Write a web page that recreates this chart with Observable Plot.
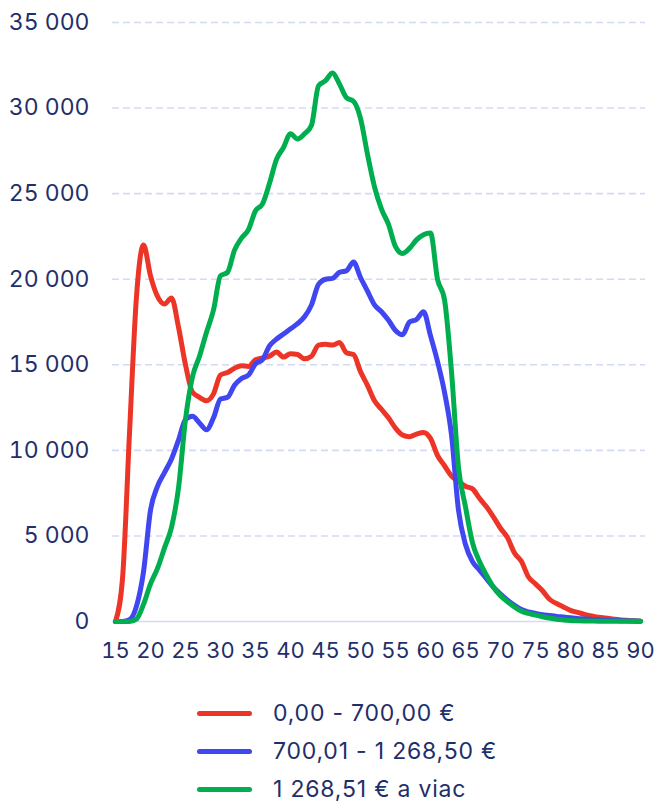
<!DOCTYPE html>
<html>
<head>
<meta charset="utf-8">
<script src="https://cdn.jsdelivr.net/npm/d3@7"></script>
<script src="https://cdn.jsdelivr.net/npm/@observablehq/plot@0.6"></script>
<style>
  html, body { margin: 0; padding: 0; background: #fff; }
  body { width: 657px; height: 804px; overflow: hidden; font-family: Inter, "Noto Sans", sans-serif; }
  #legend { position: relative; padding-left: 197px; margin-top: 14px; }
  .item { display: flex; align-items: center; height: 38px; color: #1f2f6b; font-size: 23px; letter-spacing: 0.8px; }
  .item span.label { line-height: 1; }
  .swatch { width: 55px; height: 5px; border-radius: 3px; margin-right: 21px; }
</style>
</head>
<body>
<div id="chart"></div>
<div id="legend"></div>
<script>
const ages = d3.range(15, 91);
const seriesNames = ["0,00 - 700,00 €", "700,01 - 1 268,50 €", "1 268,51 € a viac"];
const seriesColors = ["#ec3527", "#4046f0", "#00ae4f"];
const yTicks = [0, 5000, 10000, 15000, 20000, 25000, 30000, 35000];
const xTicks = [15, 20, 25, 30, 35, 40, 45, 50, 55, 60, 65, 70, 75, 80, 85, 90];

const red = [0, 2500, 11000, 19000, 22000, 20200, 19000, 18550, 18900, 17200,
  15000, 13400, 13100, 12900, 13300, 14400, 14550, 14800, 14950, 14900,
  15300, 15400, 15500, 15750, 15450, 15650, 15600, 15350, 15500, 16150,
  16200, 16150, 16300, 15700, 15600, 14600, 13800, 12900, 12400, 11900,
  11300, 10900, 10800, 10950, 11050, 10700, 9700, 9100, 8500, 8200,
  7900, 7750, 7200, 6700, 6100, 5450, 4900, 4000, 3500, 2600,
  2200, 1800, 1300, 1050, 850, 650, 530, 420, 330, 250,
  200, 150, 100, 70, 40, 20];
const blue = [0, 0, 100, 900, 2900, 6500, 7900, 8700, 9500, 10600,
  11800, 12000, 11600, 11200, 11900, 13000, 13100, 13800, 14200, 14400,
  15050, 15300, 16100, 16500, 16800, 17100, 17400, 17800, 18500, 19700,
  20000, 20050, 20400, 20500, 21000, 20100, 19300, 18500, 18100, 17600,
  17000, 16750, 17500, 17650, 18100, 16700, 15200, 13400, 10900, 6500,
  4500, 3500, 3000, 2500, 2000, 1600, 1250, 950, 700, 560,
  470, 400, 350, 300, 260, 220, 180, 150, 120, 100,
  80, 60, 50, 40, 30, 20];
const green = [0, 0, 0, 150, 1000, 2200, 3100, 4300, 5500, 7800,
  11800, 14300, 15500, 16900, 18200, 20200, 20400, 21700, 22400, 22900,
  24000, 24400, 25600, 27000, 27700, 28500, 28200, 28500, 29000, 31300,
  31600, 32050, 31400, 30600, 30400, 29400, 27300, 25400, 24100, 23200,
  21900, 21500, 21800, 22300, 22600, 22700, 20000, 18800, 14600, 9000,
  6700, 4600, 3500, 2700, 2000, 1500, 1150, 850, 600, 470,
  370, 280, 200, 130, 90, 60, 40, 30, 25, 20,
  20, 20, 20, 20, 20, 20];

const values = [red, blue, green];
const rows = [];
values.forEach((arr, s) => arr.forEach((v, i) => rows.push({age: ages[i], value: v, series: seriesNames[s]})));

const fmt = d => d3.format(",")(d).replace(/,/g, " ");
const textColor = "#1f2f6b";
const gridColor = "#d3daf4";

const chart = Plot.plot({
  width: 657,
  height: 680,
  marginTop: 22,
  marginLeft: 112,
  marginRight: 12,
  marginBottom: 59,
  insetLeft: 3,
  insetRight: 5,
  style: {fontFamily: "Inter, 'Noto Sans', sans-serif", fontSize: "20px", color: textColor, background: "#fff"},
  x: {domain: [15, 90]},
  y: {domain: [0, 35000]},
  color: {domain: seriesNames, range: seriesColors},
  marks: [
    Plot.gridY(yTicks.filter(d => d > 0), {stroke: gridColor, strokeOpacity: 1, strokeWidth: 1.6, strokeDasharray: "7,4"}),
    Plot.ruleY([0], {stroke: gridColor, strokeWidth: 1.6}),
    Plot.axisY(yTicks, {tickSize: 0, tickPadding: 23, tickFormat: fmt, fill: textColor, fontSize: 23, label: null}),
    Plot.axisX(xTicks, {tickSize: 0, tickPadding: 21, fill: textColor, fontSize: 22, label: null}),
    Plot.line(rows, {x: "age", y: "value", z: "series", stroke: "series", strokeWidth: 5, curve: "monotone-x", strokeLinejoin: "round", strokeLinecap: "round"})
  ]
});
document.getElementById("chart").appendChild(chart);

const legend = document.getElementById("legend");
seriesNames.forEach((name, i) => {
  const item = document.createElement("div");
  item.className = "item";
  const sw = document.createElement("span");
  sw.className = "swatch";
  sw.style.background = seriesColors[i];
  const label = document.createElement("span");
  label.className = "label";
  label.textContent = name;
  item.appendChild(sw);
  item.appendChild(label);
  legend.appendChild(item);
});
</script>
</body>
</html>
